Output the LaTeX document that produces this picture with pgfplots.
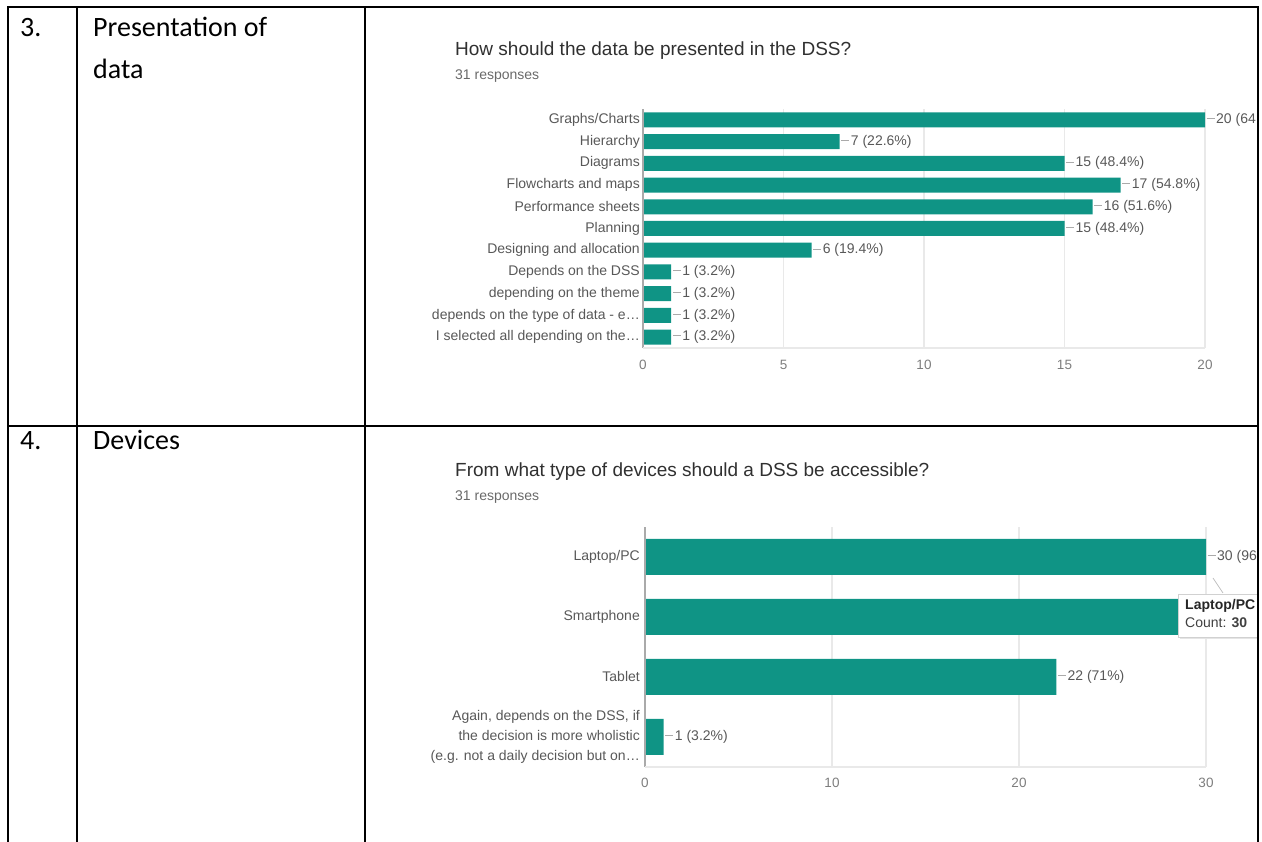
\documentclass[border=0pt]{standalone}
\usepackage{pgfplots}
\pgfplotsset{compat=1.18}
\usepackage{fontspec}
\setmainfont{Liberation Sans}
\newfontfamily\tablefont{Carlito}
\definecolor{barteal}{RGB}{15,148,133}
\definecolor{titlegray}{RGB}{48,48,48}
\definecolor{lblgray}{RGB}{88,88,88}
\definecolor{subgray}{RGB}{105,105,105}
\definecolor{tickgray}{RGB}{125,125,125}
\definecolor{gridgray}{RGB}{233,233,233}
\definecolor{axisgray}{RGB}{170,170,170}
\newcommand\fs[1]{\fontsize{#1}{#1}\selectfont}
\newcommand\conn{\textcolor{axisgray}{\rule[0.32em]{8pt}{0.8pt}}\hspace{1.5pt}}
\pgfplotsset{
  gforms/.style={
    xbar, scale only axis, axis line style={draw=none},
    major tick length=0pt, xmajorgrids,
    grid style={gridgray, line width=1.2pt},
    bar shift=0pt,
    /pgf/number format/assume math mode=true,
    xticklabel style={font=\fs{13.5}, text=tickgray, anchor=base, inner sep=0pt},
    yticklabel style={font=\fs{14}, text=lblgray},
    point meta=explicit symbolic,
    nodes near coords={\conn\pgfplotspointmeta},
    nodes near coords style={anchor=west, font=\fs{14}, text=lblgray, inner sep=1.5pt},
    clip=false,
  }
}
\begin{document}
\begin{tikzpicture}
\useasboundingbox (0pt,0pt) rectangle (1262pt,842pt);
\begin{scope}
\clip (0pt,0pt) rectangle (1257pt,842pt);
% ---------- chart 1 ----------
\node[anchor=base west, font=\fs{19}, text=titlegray, inner sep=0] at (455pt,786pt) {How should the data be presented in the DSS?};
\node[anchor=base west, font=\fs{14}, text=subgray, inner sep=0] at (455pt,762pt) {31 responses};
\begin{axis}[gforms, at={(643pt,494pt)}, anchor=south west, width=562pt, height=239pt,
  xmin=0, xmax=20, ymin=-0.5, ymax=10.5, xtick={0,5,10,15,20},
  ytick={0,...,10},
  yticklabels={I selected all depending on the…, depends on the type of data - e…, depending on the theme, Depends on the DSS, Designing and allocation, Planning, Performance sheets, Flowcharts and maps, Diagrams, Hierarchy, Graphs/Charts},
  bar width=15pt, xticklabel style={yshift=-22pt}, yticklabel style={inner sep=3pt}]
\addplot[draw=none, fill=barteal] coordinates {
 (20,10) [20 (64.5\%)]
 (7,9) [7 (22.6\%)]
 (15,8) [15 (48.4\%)]
 (17,7) [17 (54.8\%)]
 (16,6) [16 (51.6\%)]
 (15,5) [15 (48.4\%)]
 (6,4) [6 (19.4\%)]
 (1,3) [1 (3.2\%)]
 (1,2) [1 (3.2\%)]
 (1,1) [1 (3.2\%)]
 (1,0) [1 (3.2\%)]
};
\draw[axisgray, line width=1.2pt] (axis cs:0,-0.5) -- (axis cs:0,10.5);
\draw[gridgray, line width=1.2pt] (axis cs:0,-0.5) -- (axis cs:20,-0.5);
\end{axis}
% ---------- chart 2 ----------
\node[anchor=base west, font=\fs{19}, text=titlegray, inner sep=0] at (455pt,365pt) {From what type of devices should a DSS be accessible?};
\node[anchor=base west, font=\fs{14}, text=subgray, inner sep=0] at (455pt,341pt) {31 responses};
\begin{axis}[gforms, at={(645pt,75pt)}, anchor=south west, width=561pt, height=240pt,
  xmin=0, xmax=30, ymin=-0.5, ymax=3.5, xtick={0,10,20,30}, ytick={0,1,2,3},
  yticklabels={{Again, depends on the DSS, if\\the decision is more wholistic\\(e.g. not a daily decision but on…}, Tablet, Smartphone, Laptop/PC},
  yticklabel style={align=right, font=\fontsize{14}{20}\selectfont, inner sep=5pt},
  bar width=36pt, xticklabel style={yshift=-21pt}]
\addplot[draw=none, fill=barteal] coordinates {
 (30,3) [30 (96.8\%)]
 (29,2) [29 (93.5\%)]
 (22,1) [22 (71\%)]
 (1,0) [1 (3.2\%)]
};
\draw[axisgray, line width=1.2pt] (axis cs:0,-0.5) -- (axis cs:0,3.5);
\draw[gridgray, line width=1.2pt] (axis cs:0,-0.5) -- (axis cs:30,-0.5);
\end{axis}
% tooltip
\fill[black!10] (1180pt,203pt) rectangle (1270pt,247pt);
\filldraw[fill=white, draw=black!18, line width=0.8pt] (1178pt,205pt) rectangle (1270pt,248pt);
\draw[black!25, line width=0.8pt] (1213pt,264pt) -- (1223pt,249pt);
\node[anchor=base west, font=\bfseries\fs{14}, text=black!85, inner sep=0] at (1185pt,232pt) {Laptop/PC};
\node[anchor=base west, font=\fs{14}, text=black!75, inner sep=0] at (1185pt,214pt) {Count: \textbf{30}};
\end{scope}
% ---------- table ----------
\begin{scope}[line width=2pt, line cap=rect]
\draw (8pt,835pt) -- (1258pt,835pt);
\draw (8pt,416pt) -- (1258pt,416pt);
\draw (8pt,0pt) -- (8pt,835pt);
\draw (77pt,0pt) -- (77pt,835pt);
\draw (365pt,0pt) -- (365pt,835pt);
\draw (1258pt,0pt) -- (1258pt,835pt);
\end{scope}
\node[anchor=base west, font=\tablefont\fs{28}, inner sep=0] at (20pt,805pt) {3.};
\node[anchor=base west, font=\tablefont\fs{28}, inner sep=0] at (93pt,805pt) {Presentation of};
\node[anchor=base west, font=\tablefont\fs{28}, inner sep=0] at (93pt,763pt) {data};
\node[anchor=base west, font=\tablefont\fs{28}, inner sep=0] at (20pt,392pt) {4.};
\node[anchor=base west, font=\tablefont\fs{28}, inner sep=0] at (93pt,392pt) {Devices};
\end{tikzpicture}
\end{document}
